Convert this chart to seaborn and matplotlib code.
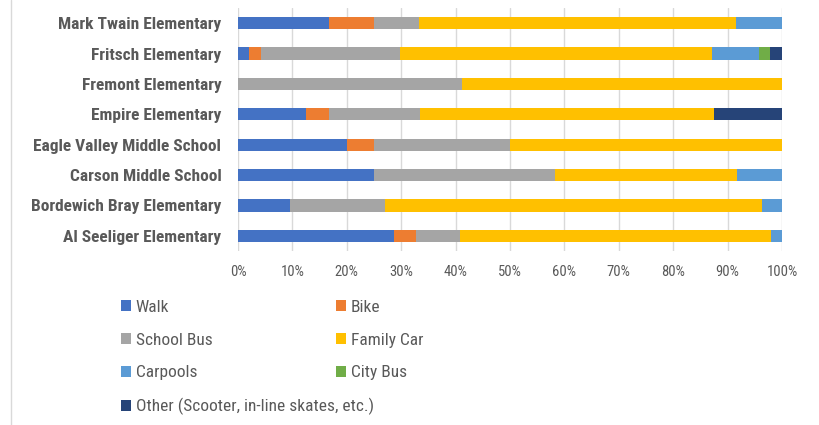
import matplotlib
matplotlib.use("Agg")
import matplotlib.pyplot as plt
from matplotlib import font_manager
from matplotlib.patches import Patch
from matplotlib.lines import Line2D
import seaborn as sns
import pandas as pd
import numpy as np

schools = ["Mark Twain Elementary", "Fritsch Elementary", "Fremont Elementary",
           "Empire Elementary", "Eagle Valley Middle School", "Carson Middle School",
           "Bordewich Bray Elementary", "Al Seeliger Elementary"]
modes = ["Walk", "Bike", "School Bus", "Family Car", "Carpools", "City Bus",
         "Other (Scooter, in-line skates, etc.)"]

walk       = [16.7, 2.1, 0.0, 12.5, 20.0, 25.0, 9.6, 28.6]
bike       = [8.3, 2.1, 0.0, 4.2, 5.0, 0.0, 0.0, 4.1]
school_bus = [8.3, 25.5, 41.2, 16.7, 25.0, 33.3, 17.4, 8.2]
family_car = [58.3, 57.5, 58.8, 54.1, 50.0, 33.4, 69.4, 57.1]
carpools   = [8.4, 8.5, 0.0, 0.0, 0.0, 8.3, 3.6, 2.0]
city_bus   = [0.0, 2.1, 0.0, 0.0, 0.0, 0.0, 0.0, 0.0]
other      = [0.0, 2.2, 0.0, 12.5, 0.0, 0.0, 0.0, 0.0]

colors = ["#4472C4", "#ED7D31", "#A5A5A5", "#FFC000", "#5B9BD5", "#70AD47", "#264478"]

series = [walk, bike, school_bus, family_car, carpools, city_bus, other]
avail = {f.name for f in font_manager.fontManager.ttflist}
fam = "Roboto"
for cand in ["Liberation Sans Narrow", "Roboto Condensed", "Open Sans Condensed", "Roboto"]:
    if cand in avail:
        fam = cand
        break
sns.set_theme(style="white")
plt.rcParams["font.family"] = [fam, "DejaVu Sans"]

fig = plt.figure(figsize=(8.19, 4.25), dpi=100)
ax = fig.add_axes([238/819, 1-251/425, 544/819, 243/425])

cum = np.cumsum(np.array(series), axis=0)
for i in range(len(series)-1, -1, -1):
    df = pd.DataFrame({"school": schools, "value": cum[i]})
    sns.barplot(data=df, x="value", y="school", order=schools, color=colors[i],
                orient="y", width=0.4, linewidth=0, saturation=1, ax=ax, zorder=3)

ax.set_xlim(0, 100)
ax.set_xticks(np.arange(0, 101, 10))
ax.set_xticklabels([f"{v}%" for v in range(0, 101, 10)], color="#595959", fontsize=10.5)
ax.tick_params(axis="x", length=0, pad=10)
ax.tick_params(axis="y", length=0, pad=12)
for lab in ax.get_yticklabels():
    lab.set_fontweight("bold")
    lab.set_color("#595959")
    lab.set_fontsize(12.5)
ax.set_xlabel("")
ax.set_ylabel("")
ax.grid(axis="x", color="#D9D9D9", linewidth=1, zorder=0)
ax.set_axisbelow(True)
for s in ax.spines.values():
    s.set_visible(False)

handles = [Patch(facecolor=c, edgecolor="none") for c in colors]
leg_kw = dict(loc="upper left", frameon=False, fontsize=12.5, handlelength=0.6,
              handleheight=0.6, handletextpad=0.25, labelspacing=1.02,
              labelcolor="#595959", borderaxespad=0, borderpad=0)
col1 = [0, 2, 4, 6]
col2 = [1, 3, 5]
leg1 = fig.legend([handles[i] for i in col1], [modes[i] for i in col1],
                  bbox_to_anchor=(121/819, 1-300/425), **leg_kw)
leg2 = fig.legend([handles[i] for i in col2], [modes[i] for i in col2],
                  bbox_to_anchor=(336/819, 1-300/425), **leg_kw)

fig.add_artist(Line2D([11/819, 11/819], [0, 1], color="#D9D9D9", linewidth=1,
                      transform=fig.transFigure))

fig.savefig("out.png", dpi=100, facecolor="white")
